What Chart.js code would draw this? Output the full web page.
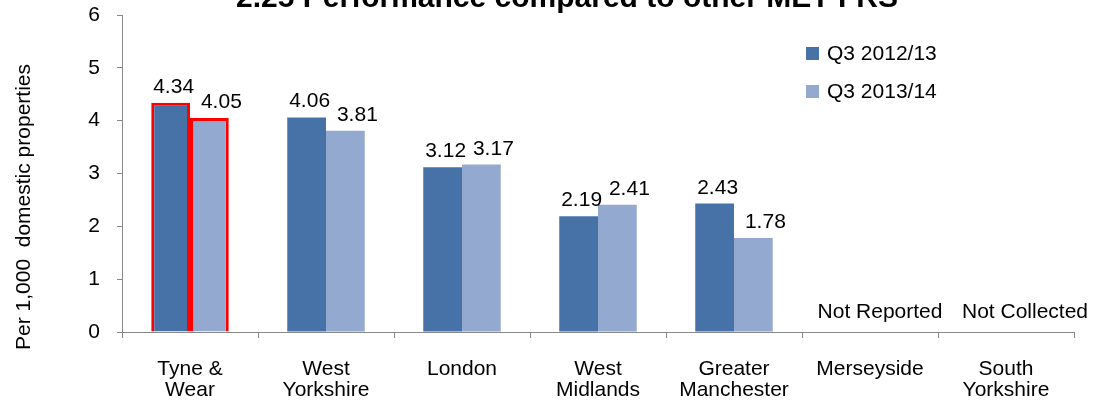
<!DOCTYPE html>
<html>
<head>
<meta charset="utf-8">
<script src="https://cdn.jsdelivr.net/npm/chart.js@4/dist/chart.umd.min.js"></script>
<style>
  html, body { margin: 0; padding: 0; background: #fff; }
  #wrap { width: 1097px; height: 404px; position: relative; }
</style>
</head>
<body>
<div id="wrap"><canvas id="c" width="1097" height="404"></canvas></div>
<script>
const chartTitle = '2.25 Performance compared to other MET FRS';
const yAxisTitle = 'Per 1,000  domestic properties';
const categories = [
  ['Tyne &', 'Wear'],
  ['West', 'Yorkshire'],
  ['London'],
  ['West', 'Midlands'],
  ['Greater', 'Manchester'],
  ['Merseyside'],
  ['South', 'Yorkshire']
];
const seriesNames = ['Q3 2012/13', 'Q3 2013/14'];
const q3_2012_13 = [4.34, 4.06, 3.12, 2.19, 2.43, null, null];
const q3_2013_14 = [4.05, 3.81, 3.17, 2.41, 1.78, null, null];
const missingNotes = ['', '', '', '', '', 'Not Reported', 'Not Collected'];
const yTicks = [0, 1, 2, 3, 4, 5, 6];

const FONT = '"Liberation Sans", Arial, sans-serif';
const DARK = '#4672A8';
const LIGHT = '#94A9CF';
const HIGHLIGHT = '#FF0000';

const annotate = {
  id: 'annotate',
  afterDatasetsDraw(chart) {
    const ctx = chart.ctx;
    ctx.save();
    ctx.fillStyle = '#000';
    ctx.font = '21px ' + FONT;
    ctx.textAlign = 'center';
    ctx.textBaseline = 'alphabetic';
    const labelShift = [3, 12];
    chart.data.datasets.forEach((ds, di) => {
      const meta = chart.getDatasetMeta(di);
      meta.data.forEach((bar, i) => {
        const v = ds.data[i];
        if (v === null || v === undefined) return;
        ctx.fillText(v.toFixed(2), bar.x + labelShift[di], bar.y - 10);
      });
    });
    const xs = chart.scales.x;
    const noteShift = [0, 0, 0, 0, 0, 10, 19];
    missingNotes.forEach((t, i) => {
      if (!t) return;
      ctx.fillText(t, xs.getPixelForValue(i) + noteShift[i], chart.scales.y.getPixelForValue(0) - 14);
    });
    ctx.restore();
  },
  afterDraw(chart) {
    const ctx = chart.ctx;
    ctx.save();
    ctx.fillStyle = '#000';
    ctx.font = 'bold 30px ' + FONT;
    ctx.textAlign = 'center';
    ctx.textBaseline = 'alphabetic';
    ctx.fillText(chartTitle, 567, 7);
    ctx.font = '21px ' + FONT;
    ctx.translate(24, 207);
    ctx.rotate(-Math.PI / 2);
    ctx.textBaseline = 'middle';
    ctx.fillText(yAxisTitle, 0, 0);
    ctx.restore();
    ctx.save();
    ctx.font = '21px ' + FONT;
    ctx.textAlign = 'left';
    ctx.textBaseline = 'middle';
    const colors = [DARK, LIGHT];
    seriesNames.forEach((n, i) => {
      const cy = 53 + i * 38;
      ctx.fillStyle = colors[i];
      ctx.fillRect(806, cy - 6, 13, 13);
      ctx.fillStyle = '#000';
      ctx.fillText(n, 827, cy + 1);
    });
    ctx.restore();
  }
};

new Chart(document.getElementById('c'), {
  type: 'bar',
  data: {
    labels: categories,
    datasets: [
      {
        label: seriesNames[0],
        data: q3_2012_13,
        backgroundColor: DARK,
        borderColor: q3_2012_13.map((v, i) => i === 0 ? HIGHLIGHT : DARK),
        borderWidth: q3_2012_13.map((v, i) => i === 0 ? 3 : 0),
        categoryPercentage: 0.57,
        barPercentage: 1.0
      },
      {
        label: seriesNames[1],
        data: q3_2013_14,
        backgroundColor: LIGHT,
        borderColor: q3_2013_14.map((v, i) => i === 0 ? HIGHLIGHT : LIGHT),
        borderWidth: q3_2013_14.map((v, i) => i === 0 ? 3 : 0),
        categoryPercentage: 0.57,
        barPercentage: 1.0
      }
    ]
  },
  options: {
    responsive: false,
    animation: false,
    layout: { padding: { top: 15, right: 23, left: 0, bottom: 0 } },
    plugins: {
      legend: { display: false },
      title: { display: false },
      tooltip: { enabled: false }
    },
    scales: {
      x: {
        offset: true,
        grid: { display: true, drawOnChartArea: false, offset: true, tickLength: 6, color: '#888' },
        border: { color: '#888', width: 1 },
        ticks: { color: '#000', font: { family: FONT, size: 21, lineHeight: 1.0 }, padding: 21, maxRotation: 0, autoSkip: false },
        afterFit(s) { s.height = 72; s.paddingLeft = 0; s.paddingRight = 0; }
      },
      y: {
        min: 0, max: 6,
        afterBuildTicks(s) { s.ticks = yTicks.map(v => ({ value: v })); },
        grid: { display: true, drawOnChartArea: false, tickLength: 5, color: '#888' },
        border: { color: '#888', width: 1 },
        ticks: { color: '#000', font: { family: FONT, size: 21 }, padding: 17 },
        afterFit(s) { s.width = 122; s.paddingTop = 0; s.paddingBottom = 0; }
      }
    }
  },
  plugins: [annotate]
});
</script>
</body>
</html>
